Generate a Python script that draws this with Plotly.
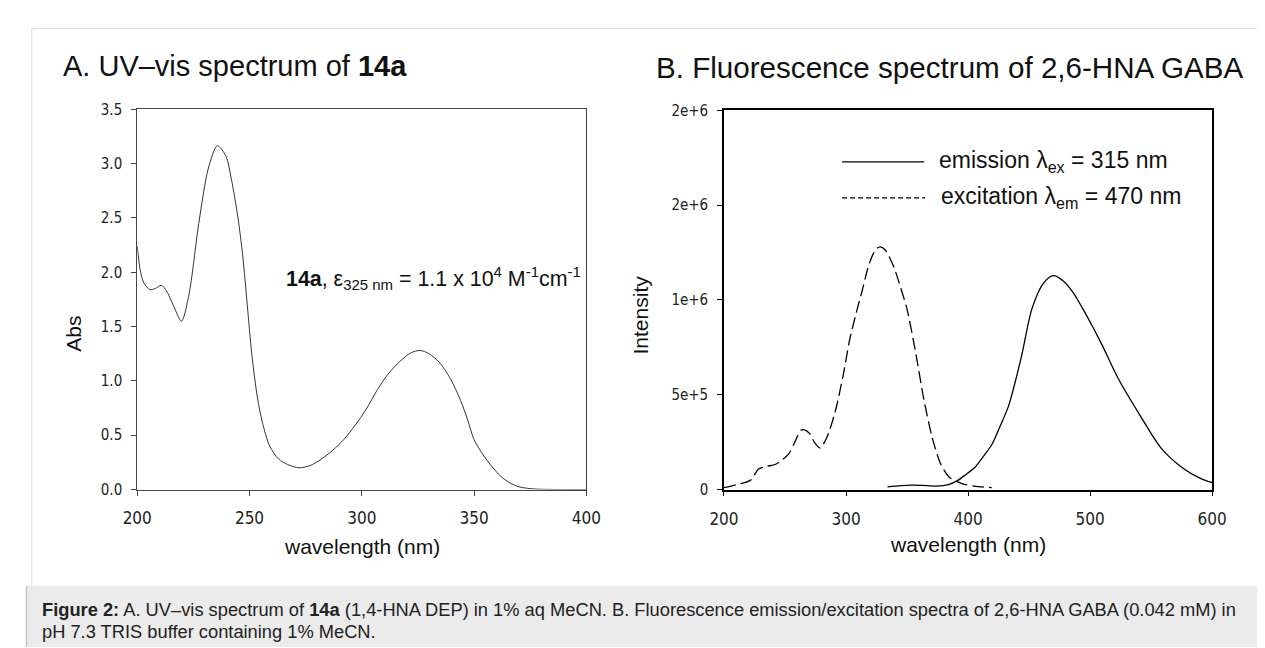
import plotly.graph_objects as go

# ---------------- data ----------------
uv_nm = [200, 201.5, 203, 205.6, 208, 210.7, 213, 216, 219.7, 223, 227.4, 231.7, 235.7,
         239.5, 242, 244.8, 247, 249, 251, 253.5, 255.7, 259, 263, 267, 272, 277, 282,
         287, 292, 297, 302, 307, 312, 317, 322, 326, 330, 335, 340, 344, 347, 348.5,
         350, 354, 358, 362, 366, 370, 375, 380, 390, 400]
uv_abs = [2.24, 2.00, 1.90, 1.84, 1.85, 1.88, 1.83, 1.70, 1.55, 1.79, 2.45, 2.96, 3.165,
          3.07, 2.85, 2.51, 2.15, 1.70, 1.25, 0.85, 0.62, 0.40, 0.28, 0.23, 0.20, 0.22, 0.28,
          0.36, 0.46, 0.59, 0.74, 0.92, 1.07, 1.18, 1.26, 1.28, 1.25, 1.16, 1.00, 0.82, 0.65, 0.55,
          0.46, 0.32, 0.21, 0.12, 0.06, 0.025, 0.008, 0.002, 0.0, 0.0]

em_nm = [334, 345, 353, 362, 374, 384, 391.6, 398, 405.5, 412, 419.4, 426, 433.2, 443.6,
         452.4, 462, 470, 478, 486, 494, 502, 510, 523.5, 541, 558, 575.6, 590, 600]
em_int = [1.4e4, 2.0e4, 2.3e4, 2.2e4, 1.8e4, 2.6e4, 4.8e4, 7.8e4, 1.16e5, 1.7e5, 2.36e5,
          3.3e5, 4.41e5, 6.97e5, 9.54e5, 1.09e6, 1.128e6, 1.10e6, 1.04e6, 9.54e5, 8.6e5,
          7.6e5, 5.8e5, 3.9e5, 2.2e5, 1.15e5, 6.0e4, 3.6e4]

ex_nm = [200, 210, 221.5, 228.4, 235, 242.3, 252.7, 258, 263.1, 266, 270.1, 274, 278.8,
         284, 291, 297.9, 303, 308.3, 313.7, 318, 321.7, 325, 328, 332, 336, 340, 345,
         349.9, 356.8, 363.8, 370.8, 377.7, 384.6, 395, 405, 419.4]
ex_int = [1e4, 2.5e4, 4.8e4, 1.08e5, 1.22e5, 1.33e5, 1.85e5, 2.5e5, 3.13e5, 3.15e5, 2.96e5,
          2.5e5, 2.19e5, 2.7e5, 4.07e5, 6.1e5, 7.9e5, 9.3e5, 1.06e6, 1.17e6, 1.235e6, 1.27e6,
          1.28e6, 1.265e6, 1.22e6, 1.16e6, 1.06e6, 9.54e5, 7.32e5, 4.75e5, 2.7e5, 1.33e5,
          6.5e4, 3.1e4, 1.8e4, 1.0e4]

a_yticks = [0, 0.5, 1.0, 1.5, 2.0, 2.5, 3.0, 3.5]
b_yticks = [0, 5e5, 1e6, 1.5e6, 2e6]
b_ytext = ["0", "5e+5", "1e+6", "2e+6", "2e+6"]

# ---------------- figure ----------------
W, H = 1265, 648
def px(x):
    return x / W
def py(y):
    return 1 - y / H

SANS = "Liberation Sans, Arial, sans-serif"
NARROW = "Liberation Sans Narrow, DejaVu Sans Condensed, Arial Narrow, sans-serif"

fig = go.Figure()
fig.add_trace(go.Scatter(x=uv_nm, y=uv_abs, mode="lines", xaxis="x", yaxis="y",
                         line=dict(color="#333333", width=1, shape="spline", smoothing=0.8),
                         showlegend=False, hoverinfo="skip"))
fig.add_trace(go.Scatter(x=em_nm, y=em_int, mode="lines", xaxis="x2", yaxis="y2",
                         line=dict(color="#000000", width=1.3, shape="spline", smoothing=0.8),
                         showlegend=False, hoverinfo="skip"))
fig.add_trace(go.Scatter(x=ex_nm, y=ex_int, mode="lines", xaxis="x2", yaxis="y2",
                         line=dict(color="#000000", width=1.3, shape="spline", smoothing=0.8,
                                   dash="12px,5px"),
                         showlegend=False, hoverinfo="skip"))

common_axis = dict(showgrid=False, zeroline=False, ticks="outside", ticklen=5,
                   showline=True, mirror=True)

fig.update_layout(
    width=W, height=H, margin=dict(l=0, r=0, t=0, b=0),
    paper_bgcolor="white", plot_bgcolor="white",
    xaxis=dict(domain=[px(117), px(577)], range=[200, 400], tickvals=[200, 250, 300, 350, 400],
               anchor="y", linecolor="#444444", linewidth=1, tickcolor="#444444",
               tickfont=dict(family=NARROW, size=17, color="#222222"),
               ticklabelstandoff=8, **common_axis),
    yaxis=dict(domain=[py(486), py(95)], range=[0, 3.5], tickvals=a_yticks,
               tickformat=".1f", anchor="x", linecolor="#444444", linewidth=1,
               tickcolor="#444444", tickfont=dict(family=NARROW, size=15, color="#222222"),
               ticklabelstandoff=6, **common_axis),
    xaxis2=dict(domain=[px(718), px(1218)], range=[200, 600], tickvals=[200, 300, 400, 500, 600],
                anchor="y2", linecolor="#000000", linewidth=1.5, tickcolor="#000000",
                tickfont=dict(family=NARROW, size=17, color="#222222"),
                ticklabelstandoff=8, **common_axis),
    yaxis2=dict(domain=[py(486), py(96)], range=[0, 2e6], tickvals=b_yticks, ticktext=b_ytext,
                anchor="x2", linecolor="#000000", linewidth=1.5, tickcolor="#000000",
                tickfont=dict(family=NARROW, size=15, color="#222222"),
                ticklabelstandoff=6, **common_axis),
)

ann = []
def text(x, y, t, size, xanchor="left", yanchor="middle", angle=0, family=SANS, color="#111111"):
    ann.append(dict(x=px(x), y=py(y), xref="paper", yref="paper", text=t, showarrow=False,
                    xanchor=xanchor, yanchor=yanchor, textangle=angle,
                    font=dict(family=family, size=size, color=color)))

# panel titles
text(39, 50, "A. UV–vis spectrum of <b>14a</b>", 29)
text(646, 52, "B. Fluorescence spectrum of 2,6-HNA GABA", 29.6)
# axis titles
text(347, 545, "wavelength (nm)", 21, xanchor="center")
text(968, 543, "wavelength (nm)", 21, xanchor="center")
text(52, 326, "Abs", 21, xanchor="center", angle=-90)
text(632, 307, "Intensity", 21, xanchor="center", angle=-90)
# annotation in A
text(267, 268, "<b>14a</b>, ε<sub>325 nm</sub> = 1.1 x 10<sup>4</sup> M<sup>-1</sup>cm<sup>-1</sup>", 21.4)
# legend in B
text(936, 149, "emission λ<sub>ex</sub> = 315 nm", 23)
text(938, 186, "excitation λ<sub>em</sub> = 470 nm", 23)
# caption
text(17, 609, "<b>Figure 2:</b> A. UV–vis spectrum of <b>14a</b> (1,4-HNA DEP) in 1% aq MeCN. "
              "B. Fluorescence emission/excitation spectra of 2,6-HNA GABA (0.042 mM) in",
     18.3, color="#222222")
text(17, 632, "pH 7.3 TRIS buffer containing 1% MeCN.", 18.3, color="#222222")
fig.update_layout(annotations=ann)

shapes = [
    # outer light frame
    dict(type="line", xref="paper", yref="paper", x0=px(9), x1=1, y0=py(12), y1=py(12),
         line=dict(color="#dddddd", width=1)),
    dict(type="line", xref="paper", yref="paper", x0=px(9), x1=px(9), y0=py(12), y1=py(585),
         line=dict(color="#dddddd", width=1)),
    # caption box
    dict(type="rect", xref="paper", yref="paper", x0=px(3), x1=1, y0=0, y1=py(585),
         fillcolor="#ebebeb", line=dict(width=0), layer="below"),
    dict(type="line", xref="paper", yref="paper", x0=px(3.5), x1=px(3.5), y0=0, y1=py(585),
         line=dict(color="#c8c8c8", width=1.5)),
    # legend samples
    dict(type="line", xref="paper", yref="paper", x0=px(839), x1=px(923), y0=py(149), y1=py(149),
         line=dict(color="#000000", width=1.3)),
    dict(type="line", xref="paper", yref="paper", x0=px(839), x1=px(924), y0=py(186), y1=py(186),
         line=dict(color="#000000", width=1.3, dash="5px,3px")),
]
fig.update_layout(shapes=shapes)

fig.write_html("out.html")
